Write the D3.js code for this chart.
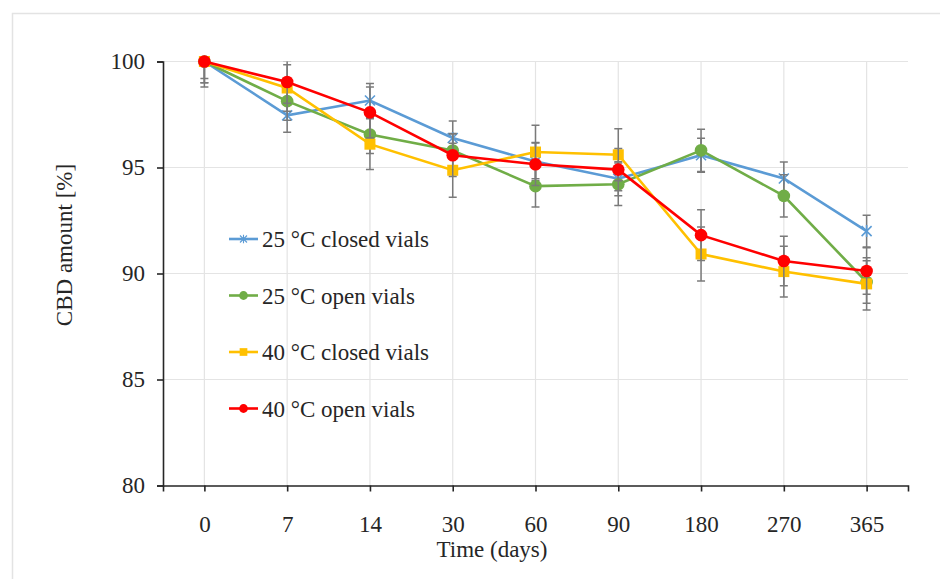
<!DOCTYPE html>
<html>
<head>
<meta charset="utf-8">
<script src="https://cdn.jsdelivr.net/npm/d3@7"></script>
<style>
  body { margin: 0; background: #fff; }
  svg text { font-family: "Liberation Serif", "Times New Roman", serif; fill: #262626; }
</style>
</head>
<body>
<div class="chart"></div>
<script>
// time points (categories)
var days = ["0", "7", "14", "30", "60", "90", "180", "270", "365"];
var yTicks = [80, 85, 90, 95, 100];

// CBD amount [%] per series
var closed25 = [100, 97.46, 98.16, 96.39, 95.28, 94.47, 95.58, 94.48, 92.0];
var open25   = [100, 98.13, 96.56, 95.80, 94.12, 94.21, 95.81, 93.66, 89.6];
var closed40 = [100, 98.75, 96.10, 94.87, 95.73, 95.60, 90.92, 90.09, 89.51];
var open40   = [100, 99.03, 97.60, 95.58, 95.15, 94.90, 91.81, 90.59, 90.12];

// error bar half lengths (SD)
var closed25Err = [0.8, 0.8, 0.8, 0.8, 0.9, 0.8, 0.8, 0.78, 0.75];
var open25Err   = [1.0, 0.9, 0.9, 0.8, 0.98, 1.0, 1.0, 1.0, 1.0];
var closed40Err = [1.2, 1.1, 1.2, 1.27, 1.26, 1.23, 1.27, 1.2, 1.23];
var open40Err   = [1.0, 1.0, 1.2, 1.0, 1.0, 1.0, 1.2, 1.17, 1.1];

var seriesNames = ["25 °C closed vials", "25 °C open vials", "40 °C closed vials", "40 °C open vials"];
var seriesColors = ["#5B9BD5", "#70AD47", "#FFC000", "#FF0000"];
var seriesMarkers = ["star", "circle", "square", "circle"];

var series = seriesNames.map(function (name, i) {
  var vals = [closed25, open25, closed40, open40][i];
  var errs = [closed25Err, open25Err, closed40Err, open40Err][i];
  return {
    name: name, color: seriesColors[i], marker: seriesMarkers[i],
    points: days.map(function (d, j) { return { day: d, value: vals[j], err: errs[j] }; })
  };
});

var width = 940, height = 579;
var plot = { left: 163, right: 908, top: 61.5, bottom: 485.5 };
var fontSize = "23px";

var svg = d3.select("div.chart").append("svg")
  .attr("width", width).attr("height", height);

// outer frame
svg.append("rect")
  .attr("x", 12.5).attr("y", 13.5).attr("width", 1000).attr("height", 1000)
  .attr("fill", "none").attr("stroke", "#e3e3e3").attr("stroke-width", 1.5);

var x = d3.scalePoint().domain(days).range([plot.left, plot.right]).padding(0.5);
var y = d3.scaleLinear().domain([80, 100]).range([plot.bottom, plot.top]);

// grid lines
svg.append("g").selectAll("line.v")
  .data(days).enter().append("line")
  .attr("x1", function (d) { return x(d); }).attr("x2", function (d) { return x(d); })
  .attr("y1", plot.top).attr("y2", plot.bottom)
  .attr("stroke", "#e4e4e4").attr("stroke-width", 1.2);
svg.append("g").selectAll("line.h")
  .data(yTicks.filter(function (t) { return t > 80; })).enter().append("line")
  .attr("x1", plot.left).attr("x2", plot.right)
  .attr("y1", function (d) { return y(d); }).attr("y2", function (d) { return y(d); })
  .attr("stroke", "#e4e4e4").attr("stroke-width", 1.2);

// axes
var yAxis = svg.append("g")
  .attr("transform", "translate(" + plot.left + ",0)")
  .call(d3.axisLeft(y).tickValues(yTicks).tickSize(6).tickPadding(12));
var xAxis = svg.append("g")
  .attr("transform", "translate(0," + plot.bottom + ")")
  .call(d3.axisBottom(x).tickSize(6).tickPadding(12));
[yAxis, xAxis].forEach(function (a) {
  a.selectAll("path, line").attr("stroke", "#262626").attr("stroke-width", 1.6);
  a.selectAll("text").style("font-size", fontSize).attr("fill", "#262626");
});
xAxis.selectAll("text").attr("dy", 0).attr("y", 46);

// axis titles
svg.append("text")
  .attr("transform", "translate(72,245) rotate(-90)")
  .attr("text-anchor", "middle").style("font-size", fontSize)
  .text("CBD amount [%]");
svg.append("text")
  .attr("x", 492).attr("y", 557)
  .attr("text-anchor", "middle").style("font-size", fontSize)
  .text("Time (days)");

// clip for error bars
svg.append("clipPath").attr("id", "plotclip").append("rect")
  .attr("x", plot.left).attr("y", plot.top)
  .attr("width", plot.right - plot.left).attr("height", plot.bottom - plot.top);

function drawMarker(g, type, color) {
  if (type === "circle") {
    g.append("circle").attr("r", 6.3).attr("fill", color);
  } else if (type === "square") {
    g.append("rect").attr("x", -5.5).attr("y", -5.5).attr("width", 11).attr("height", 11).attr("fill", color);
  } else {
    g.append("path").attr("d", "M-5,-5L5,5M-5,5L5,-5M0,-6L0,6")
      .attr("stroke", color).attr("stroke-width", 1.6).attr("fill", "none");
  }
}

var line = d3.line()
  .x(function (d) { return x(d.day); })
  .y(function (d) { return y(d.value); });

series.forEach(function (s) {
  var g = svg.append("g");
  // error bars
  var eb = g.append("g").attr("clip-path", "url(#plotclip)")
    .selectAll("g").data(s.points).enter().append("g")
    .attr("stroke", "#7a7a7a").attr("stroke-width", 1.5);
  eb.append("line")
    .attr("x1", function (d) { return x(d.day); }).attr("x2", function (d) { return x(d.day); })
    .attr("y1", function (d) { return y(d.value + d.err); })
    .attr("y2", function (d) { return y(d.value - d.err); });
  eb.append("line")
    .attr("x1", function (d) { return x(d.day) - 4; }).attr("x2", function (d) { return x(d.day) + 4; })
    .attr("y1", function (d) { return y(d.value + d.err); }).attr("y2", function (d) { return y(d.value + d.err); });
  eb.append("line")
    .attr("x1", function (d) { return x(d.day) - 4; }).attr("x2", function (d) { return x(d.day) + 4; })
    .attr("y1", function (d) { return y(d.value - d.err); }).attr("y2", function (d) { return y(d.value - d.err); });
  // line
  g.append("path").datum(s.points).attr("d", line)
    .attr("fill", "none").attr("stroke", s.color).attr("stroke-width", 2.6);
  // markers
  g.selectAll("g.m").data(s.points).enter().append("g")
    .attr("transform", function (d) { return "translate(" + x(d.day) + "," + y(d.value) + ")"; })
    .each(function () { drawMarker(d3.select(this), s.marker, s.color); });
});

// legend
var legend = svg.append("g").selectAll("g")
  .data(series).enter().append("g")
  .attr("transform", function (d, i) { return "translate(229," + (239 + i * 56.5) + ")"; });
legend.append("line").attr("x1", 0).attr("x2", 29)
  .attr("stroke", function (d) { return d.color; }).attr("stroke-width", 2.6);
legend.each(function (d) {
  var m = d3.select(this).append("g").attr("transform", "translate(14.5,0) scale(0.7)");
  drawMarker(m, d.marker, d.color);
});
legend.append("text").attr("x", 33).attr("dy", "0.35em")
  .style("font-size", fontSize).text(function (d) { return d.name; });
</script>
</body>
</html>
